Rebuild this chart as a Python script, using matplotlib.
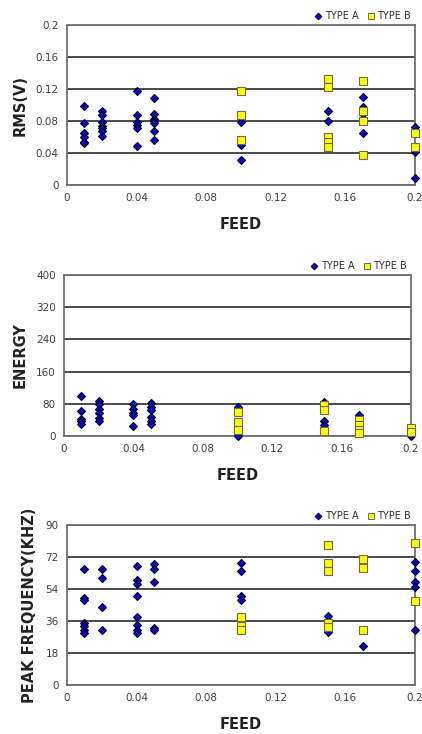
import matplotlib
matplotlib.use("Agg")
import matplotlib.pyplot as plt
from matplotlib.lines import Line2D

plt.rcParams['font.family'] = ['DejaVu Sans']

# ---- RMS(V) ----
rms_a_feed = [0.01]*6 + [0.02]*7 + [0.04]*6 + [0.05]*7 + [0.10]*3 + [0.15]*3 + [0.17]*4 + [0.2]*3
rms_a_val = [0.099, 0.078, 0.065, 0.060, 0.054, 0.052,
             0.093, 0.087, 0.079, 0.074, 0.071, 0.068, 0.061,
             0.117, 0.088, 0.079, 0.075, 0.071, 0.049,
             0.109, 0.089, 0.083, 0.080, 0.077, 0.067, 0.056,
             0.079, 0.050, 0.031,
             0.093, 0.080, 0.055,
             0.110, 0.098, 0.089, 0.065,
             0.072, 0.041, 0.009]
rms_b_feed = [0.10]*3 + [0.15]*5 + [0.17]*4 + [0.2]*2
rms_b_val = [0.117, 0.087, 0.056,
             0.133, 0.122, 0.060, 0.054, 0.048,
             0.130, 0.092, 0.080, 0.038,
             0.065, 0.048]

# ---- ENERGY ----
en_a_feed = [0.01]*5 + [0.02]*6 + [0.04]*5 + [0.05]*6 + [0.10]*2 + [0.15]*3 + [0.17] + [0.2]
en_a_val = [99, 61, 43, 37, 29,
            86, 80, 68, 56, 45, 37,
            79, 67, 56, 51, 25,
            82, 73, 64, 48, 38, 31,
            71, 1,
            85, 38, 27,
            52,
            1]
en_b_feed = [0.10]*3 + [0.15]*3 + [0.17]*4 + [0.2]*2
en_b_val = [60, 35, 16,
            77, 64, 13,
            40, 27, 16, 7,
            19, 11]

# ---- PEAK FREQUENCY(KHZ) ----
pf_a_feed = [0.01]*7 + [0.02]*4 + [0.04]*8 + [0.05]*5 + [0.10]*4 + [0.15]*2 + [0.17]*2 + [0.2]*5
pf_a_val = [65, 48.8, 47.8, 35, 33, 31, 29,
            65, 60, 44, 31,
            67, 59, 57, 50, 38, 34, 31, 29.5,
            68, 65, 58, 32, 31,
            68.4, 64, 50, 48,
            39, 30,
            68.8, 22,
            69, 64, 58, 55, 31]
pf_b_feed = [0.10]*3 + [0.15]*5 + [0.17]*3 + [0.2]*2
pf_b_val = [38, 33, 31,
            79, 68.4, 64, 35, 32.5,
            71, 66, 31,
            80, 47]

x_ticks = [0, 0.04, 0.08, 0.12, 0.16, 0.2]
x_ticklabels = ['0', '0.04', '0.08', '0.12', '0.16', '0.2']

panels = [
    dict(rect=[67/422, 1-185/734, 348/422, 160/734], ylabel='RMS(V)',
         ylim=(0, 0.2), yticks=[0, 0.04, 0.08, 0.12, 0.16, 0.2],
         yticklabels=['0', '0.04', '0.08', '0.12', '0.16', '0.2'],
         a=(rms_a_feed, rms_a_val), b=(rms_b_feed, rms_b_val)),
    dict(rect=[64/422, 1-436/734, 347/422, 161/734], ylabel='ENERGY',
         ylim=(0, 400), yticks=[0, 80, 160, 240, 320, 400],
         yticklabels=['0', '80', '160', '240', '320', '400'],
         a=(en_a_feed, en_a_val), b=(en_b_feed, en_b_val)),
    dict(rect=[67/422, 1-685/734, 348/422, 160/734], ylabel='PEAK FREQUENCY(KHZ)',
         ylim=(0, 90), yticks=[0, 18, 36, 54, 72, 90],
         yticklabels=['0', '18', '36', '54', '72', '90'],
         a=(pf_a_feed, pf_a_val), b=(pf_b_feed, pf_b_val)),
]

col_a = '#0808c8'
col_a_edge = '#000020'
col_b = '#ffff00'
col_b_edge = '#6e6a50'
grid_col = '#4a4a4a'
tick_col = '#404040'

fig = plt.figure(figsize=(4.22, 7.34), dpi=100)

for p in panels:
    ax = fig.add_axes(p['rect'])
    ax.set_xlim(0, 0.2)
    ax.set_ylim(*p['ylim'])
    ax.set_xticks(x_ticks)
    ax.set_xticklabels(x_ticklabels)
    ax.set_yticks(p['yticks'])
    ax.set_yticklabels(p['yticklabels'])
    ax.tick_params(length=0, labelsize=7.5, labelcolor=tick_col, pad=6)
    for s in ax.spines.values():
        s.set_color('#707070')
        s.set_linewidth(1.3)
    ax.yaxis.grid(True, color=grid_col, linewidth=1.4)
    ax.set_axisbelow(True)

    fa, va = p['a']
    fb, vb = p['b']
    ax.plot(fa, va, linestyle='none', marker='D', markersize=3.9,
            markerfacecolor=col_a, markeredgecolor=col_a_edge,
            markeredgewidth=0.8, clip_on=False, zorder=3)
    ax.plot(fb, vb, linestyle='none', marker='s', markersize=6,
            markerfacecolor=col_b, markeredgecolor=col_b_edge,
            markeredgewidth=0.8, clip_on=False, zorder=4)

    ax.set_ylabel(p['ylabel'], fontsize=10.5, fontweight='bold', labelpad=6,
                  color='#222222')
    ax.set_xlabel('FEED', fontsize=10.5, fontweight='bold', labelpad=10,
                  color='#222222')

    handles = [
        Line2D([], [], linestyle='none', marker='D', markersize=3.5,
               markerfacecolor=col_a, markeredgecolor=col_a_edge, markeredgewidth=0.6),
        Line2D([], [], linestyle='none', marker='s', markersize=5,
               markerfacecolor=col_b, markeredgecolor=col_b_edge, markeredgewidth=0.7),
    ]
    leg = ax.legend(handles, ['TYPE A', 'TYPE B'], loc='lower right',
                    bbox_to_anchor=(1.0, 1.0), ncol=2, frameon=False,
                    fontsize=7, handlelength=0.8, handletextpad=0.3,
                    columnspacing=0.8, borderaxespad=0.2, borderpad=0.2)
    for t in leg.get_texts():
        t.set_color('#303030')

fig.savefig('out.png', dpi=100)
